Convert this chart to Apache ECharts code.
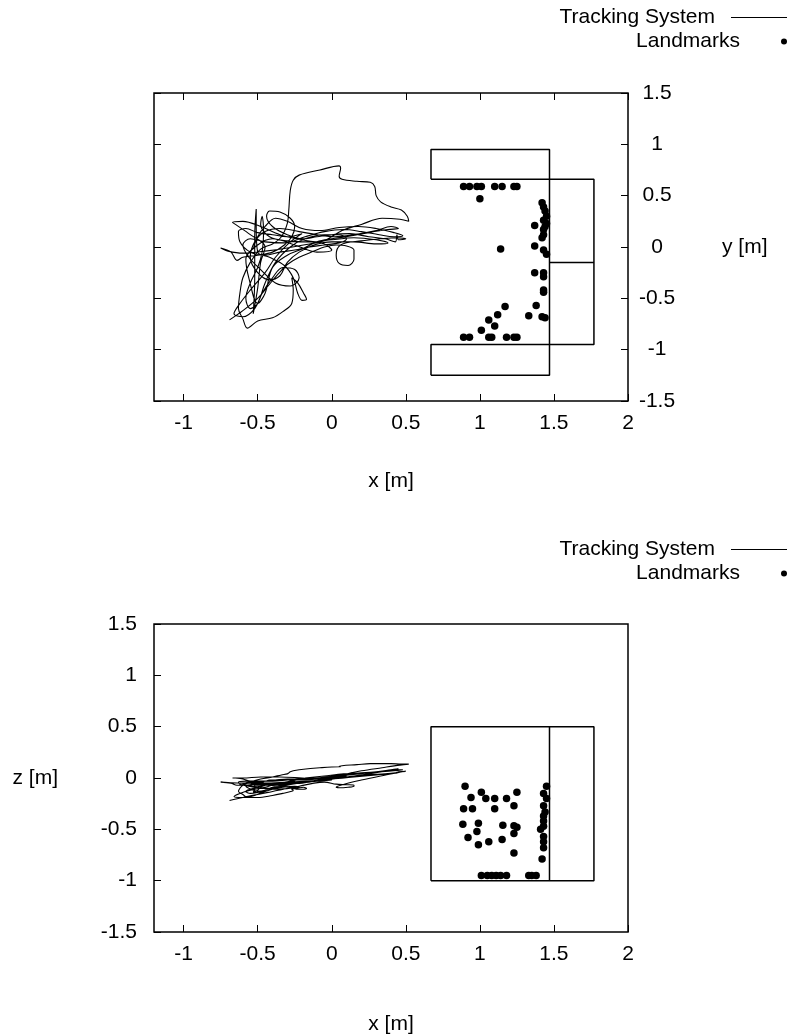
<!DOCTYPE html>
<html><head><meta charset="utf-8">
<script src="https://cdn.jsdelivr.net/npm/echarts@6/dist/echarts.min.js"></script>
<style>html,body{margin:0;padding:0;background:#fff}#c{width:787px;height:1036px}</style>
</head><body><div id="c"></div>
<script>
// ---- tick labels ----
const xTicks = [-1, -0.5, 0, 0.5, 1, 1.5, 2];
const yTicks = [-1.5, -1, -0.5, 0, 0.5, 1, 1.5];
const zTicks = [-1.5, -1, -0.5, 0, 0.5, 1, 1.5];

// ---- tracking system trajectory (same path, x / y / z) ----
const trajX = [-0.69,-0.60,-0.50,-0.43,-0.36,-0.30,-0.22,-0.12,-0.05,0.03,0.10,0.15,0.15,0.11,0.05,0.03,0.06,0.20,0.33,0.44,0.50,0.45,0.44,0.43,0.36,0.25,0.12,0.00,-0.10,-0.20,-0.30,-0.40,-0.44,-0.42,-0.35,-0.28,-0.25,-0.27,-0.32,-0.40,-0.50,-0.60,-0.64,-0.68,-0.75,-0.70,-0.60,-0.45,-0.30,-0.15,-0.05,0.07,0.20,0.34,0.46,0.52,0.51,0.47,0.40,0.33,0.30,0.29,0.26,0.17,0.07,0.05,0.06,0.05,-0.08,-0.22,-0.26,-0.28,-0.29,-0.30,-0.34,-0.40,-0.48,-0.55,-0.60,-0.62,-0.63,-0.60,-0.57,-0.50,-0.40,-0.33,-0.27,-0.26,-0.27,-0.23,-0.19,-0.17,-0.20,-0.23,-0.26,-0.32,-0.42,-0.50,-0.51,-0.51,-0.52,-0.52,-0.53,-0.50,-0.48,-0.45,-0.55,-0.65,-0.67,-0.60,-0.48,-0.35,-0.20,-0.05,0.00,-0.10,-0.25,-0.40,-0.50,-0.58,-0.56,-0.50,-0.45,-0.40,-0.30,-0.20,-0.10,0.00,0.10,0.25,0.38,0.45,
 0.40,0.30,0.15,0.02,-0.10,-0.22,-0.35,-0.45,-0.52,-0.55,-0.50,-0.42,-0.35,-0.30,-0.22,-0.12,0.00,0.15,0.30,0.38,0.30,0.15,0.00,-0.15,-0.30,-0.42,-0.48,-0.47,-0.46,-0.47,-0.50,-0.55,-0.58,-0.55,-0.50,-0.45,-0.38,-0.28,-0.18,-0.05,0.05,0.10,0.05,-0.05,-0.15,-0.25,-0.35,-0.45,-0.55,-0.62,-0.63,-0.58,-0.50,-0.40,-0.30,-0.20,
 -0.28,-0.38,-0.45,-0.55,-0.62,-0.66,-0.60,-0.52,-0.47,-0.40,-0.33,-0.25,-0.22,-0.28,-0.38,-0.48,-0.56,-0.60,-0.55,-0.45,-0.32,-0.18,-0.05,0.08,0.20,0.32,0.42,0.48,0.42,0.30,0.18,0.05,-0.08,-0.20,-0.30,-0.38,-0.45,-0.50,-0.53];
const trajY = [-0.71,-0.62,-0.50,-0.38,-0.26,-0.17,-0.10,-0.04,0.00,0.02,0.01,-0.03,-0.12,-0.18,-0.16,-0.08,0.02,0.06,0.08,0.09,0.08,0.07,0.12,0.05,0.08,0.10,0.13,0.12,0.10,0.08,0.12,0.20,0.30,0.35,0.34,0.28,0.20,0.10,0.02,-0.05,-0.08,-0.10,-0.13,-0.05,-0.01,-0.04,-0.06,-0.04,-0.01,0.03,0.06,0.16,0.22,0.28,0.27,0.25,0.30,0.36,0.39,0.44,0.50,0.59,0.63,0.64,0.66,0.69,0.77,0.79,0.75,0.70,0.65,0.55,0.36,0.23,0.10,0.03,-0.02,-0.15,-0.30,-0.45,-0.60,-0.70,-0.79,-0.72,-0.69,-0.63,-0.55,-0.42,-0.30,-0.35,-0.45,-0.51,-0.52,-0.45,-0.30,-0.18,-0.10,-0.05,0.20,0.37,0.10,-0.30,-0.65,-0.40,-0.15,0.00,0.12,0.22,0.24,0.25,0.20,0.12,0.07,0.03,-0.03,-0.05,0.02,0.08,0.02,-0.12,-0.30,-0.55,-0.45,-0.20,-0.08,-0.02,0.05,0.08,0.10,0.14,0.17,0.18,
 0.20,0.16,0.12,0.10,0.12,0.15,0.18,0.15,0.05,-0.10,-0.25,-0.32,-0.28,-0.15,-0.05,0.02,0.05,0.05,0.03,0.04,0.07,0.09,0.07,0.05,0.06,0.10,0.22,0.30,0.15,-0.05,-0.20,-0.35,-0.50,-0.60,-0.55,-0.35,-0.15,0.00,0.08,0.12,0.12,0.08,0.04,0.02,0.00,-0.03,-0.05,-0.08,-0.05,0.05,0.15,0.18,0.14,0.12,0.10,0.13,
 0.05,-0.10,-0.25,-0.42,-0.55,-0.65,-0.68,-0.60,-0.45,-0.30,-0.20,-0.22,-0.30,-0.38,-0.35,-0.22,-0.10,0.02,0.08,0.05,0.04,0.10,0.15,0.17,0.15,0.12,0.10,0.11,0.14,0.18,0.20,0.19,0.16,0.18,0.25,0.28,0.20,0.10,-0.02];
const trajZ = [-0.22,-0.19,-0.16,-0.14,-0.12,-0.10,-0.08,-0.05,-0.04,-0.06,-0.065,-0.07,-0.08,-0.09,-0.095,-0.09,-0.07,-0.02,0.02,0.05,0.065,0.06,0.055,0.05,0.04,0.03,0.01,0.00,-0.01,-0.02,-0.02,-0.03,-0.03,-0.02,-0.02,-0.02,-0.03,-0.04,-0.05,-0.06,-0.06,-0.07,-0.07,-0.05,-0.04,-0.045,-0.05,-0.05,-0.04,-0.03,-0.02,0.03,0.07,0.10,0.125,0.135,0.135,0.135,0.14,0.14,0.14,0.14,0.14,0.13,0.12,0.115,0.11,0.11,0.10,0.08,0.07,0.06,0.05,0.04,0.03,0.01,-0.01,-0.04,-0.07,-0.10,-0.13,-0.16,-0.19,-0.19,-0.17,-0.15,-0.13,-0.12,-0.11,-0.10,-0.09,-0.10,-0.11,-0.11,-0.10,-0.08,-0.07,-0.06,-0.05,-0.04,-0.06,-0.10,-0.14,-0.12,-0.09,-0.07,-0.03,0.00,0.00,0.00,0.01,0.01,0.00,-0.01,-0.02,-0.03,-0.04,-0.05,-0.06,-0.08,-0.10,-0.13,-0.12,-0.09,-0.06,-0.05,-0.03,-0.01,0.01,0.04,0.07,0.09,
 0.08,0.06,0.04,0.02,0.00,-0.01,-0.02,-0.03,-0.05,-0.07,-0.09,-0.10,-0.09,-0.07,-0.05,-0.03,-0.01,0.01,0.03,0.04,0.03,0.01,-0.01,-0.03,-0.04,-0.05,-0.05,-0.04,-0.05,-0.07,-0.09,-0.11,-0.13,-0.15,-0.14,-0.12,-0.09,-0.06,-0.04,-0.01,0.01,0.02,0.00,-0.02,-0.04,-0.05,-0.06,-0.07,-0.08,-0.06,-0.04,-0.03,-0.03,-0.03,-0.02,-0.01,
 -0.03,-0.06,-0.09,-0.12,-0.15,-0.18,-0.19,-0.17,-0.14,-0.11,-0.09,-0.08,-0.09,-0.10,-0.11,-0.10,-0.08,-0.06,-0.04,-0.03,-0.02,0.00,0.02,0.04,0.05,0.06,0.07,0.08,0.08,0.06,0.04,0.02,0.00,-0.01,-0.01,-0.02,-0.03,-0.04,-0.06];

// ---- landmarks ----
const landmarksXY = [
 [0.89,0.59],[0.93,0.59],[0.98,0.59],[1.01,0.59],[1.10,0.59],[1.15,0.59],[1.23,0.59],[1.25,0.59],
 [1.00,0.47],
 [1.42,0.43],[1.43,0.39],[1.44,0.35],[1.45,0.30],[1.43,0.26],[1.45,0.23],[1.37,0.21],[1.44,0.20],[1.43,0.17],[1.43,0.12],[1.42,0.09],[1.37,0.01],[1.43,-0.03],[1.45,-0.07],
 [1.14,-0.02],
 [1.37,-0.25],[1.43,-0.25],[1.43,-0.29],[1.43,-0.42],[1.43,-0.44],[1.38,-0.57],[1.33,-0.67],[1.42,-0.68],[1.44,-0.69],
 [1.17,-0.58],[1.12,-0.66],[1.06,-0.71],[1.10,-0.77],[1.01,-0.81],
 [0.89,-0.88],[0.93,-0.88],[1.06,-0.88],[1.08,-0.88],[1.18,-0.88],[1.23,-0.88],[1.25,-0.88]
];
const landmarksXZ = [
 [0.90,-0.08],[0.94,-0.19],[1.01,-0.14],[1.04,-0.20],[1.10,-0.20],[1.18,-0.20],[1.25,-0.14],
 [0.89,-0.30],[0.95,-0.30],[1.10,-0.30],[1.23,-0.27],
 [0.885,-0.45],[0.99,-0.44],[0.98,-0.52],[1.155,-0.46],[1.23,-0.465],[1.25,-0.48],[1.23,-0.54],
 [0.92,-0.58],[1.15,-0.60],[1.06,-0.62],[0.99,-0.65],[1.23,-0.73],
 [1.01,-0.95],[1.05,-0.95],[1.08,-0.95],[1.11,-0.95],[1.14,-0.95],[1.18,-0.95],[1.33,-0.95],[1.35,-0.95],[1.38,-0.95],
 [1.45,-0.08],[1.43,-0.15],[1.45,-0.20],[1.43,-0.27],[1.44,-0.33],[1.43,-0.37],[1.43,-0.42],[1.43,-0.47],[1.41,-0.50],[1.43,-0.57],[1.43,-0.62],[1.43,-0.68],[1.42,-0.79]
];

// ---- walls (outline polylines) ----
const wallsXY = [
 [[0.67,0.66],[1.47,0.66],[1.47,0.95],[0.67,0.95],[0.67,0.66]],
 [[1.47,-0.95],[1.77,-0.95],[1.77,0.66],[1.47,0.66],[1.47,-0.95]],
 [[1.47,-0.15],[1.77,-0.15]],
 [[0.67,-1.25],[1.47,-1.25],[1.47,-0.95],[0.67,-0.95],[0.67,-1.25]]
];
const wallsXZ = [
 [[0.67,-1.0],[1.77,-1.0],[1.77,0.5],[0.67,0.5],[0.67,-1.0]],
 [[1.47,-1.0],[1.47,0.5]]
];

const FONT = '"Liberation Sans", Arial, Helvetica, sans-serif';
const FS = 21;
const txt = { color: '#000', fontFamily: FONT, fontSize: FS };

function xAx(grid, pos, labels, name, nameGap) {
  return {
    gridIndex: grid, type: 'value', position: pos, min: -1.2, max: 2,
    axisLine: { show: false, onZero: false }, splitLine: { show: false },
    axisTick: { show: true, inside: true, length: 7, lineStyle: { color: '#000', width: 1 }, customValues: xTicks },
    axisLabel: labels ? Object.assign({ margin: 12, customValues: xTicks }, txt) : { show: false },
    name: name || '', nameLocation: 'middle', nameGap: nameGap || 0, nameTextStyle: txt
  };
}
function yAx(grid, pos, ticks, labelCfg, name, nameGap) {
  return {
    gridIndex: grid, type: 'value', position: pos, min: -1.5, max: 1.5,
    axisLine: { show: false, onZero: false }, splitLine: { show: false },
    axisTick: { show: true, inside: true, length: 7, lineStyle: { color: '#000', width: 1 }, customValues: ticks },
    axisLabel: labelCfg ? Object.assign({ customValues: ticks }, txt, labelCfg) : { show: false },
    name: name || '', nameLocation: 'middle', nameRotate: 0, nameGap: nameGap || 0, nameTextStyle: txt
  };
}

const trajXY = trajX.map((x, i) => [x, trajY[i]]);
const trajXZ = trajX.map((x, i) => [x, trajZ[i]]);

const series = [];
wallsXY.forEach((w, i) => series.push({ name: 'wallXY' + i, type: 'line', xAxisIndex: 0, yAxisIndex: 0, data: w, symbol: 'none', lineStyle: { color: '#000', width: 1.5 }, silent: true, z: 2 }));
wallsXZ.forEach((w, i) => series.push({ name: 'wallXZ' + i, type: 'line', xAxisIndex: 2, yAxisIndex: 2, data: w, symbol: 'none', lineStyle: { color: '#000', width: 1.5 }, silent: true, z: 2 }));
series.push({ name: 'Tracking System', type: 'line', xAxisIndex: 0, yAxisIndex: 0, data: trajXY, symbol: 'none', smooth: 0.35, lineStyle: { color: '#000', width: 1.1 }, itemStyle: { color: '#000' }, z: 3 });
series.push({ name: 'Tracking System', type: 'line', xAxisIndex: 2, yAxisIndex: 2, data: trajXZ, symbol: 'none', smooth: 0.35, lineStyle: { color: '#000', width: 1.1 }, itemStyle: { color: '#000' }, z: 3 });
series.push({ name: 'Landmarks', type: 'scatter', xAxisIndex: 0, yAxisIndex: 0, data: landmarksXY, symbol: 'circle', symbolSize: 7.5, itemStyle: { color: '#000', opacity: 1 }, z: 4 });
series.push({ name: 'Landmarks', type: 'scatter', xAxisIndex: 2, yAxisIndex: 2, data: landmarksXZ, symbol: 'circle', symbolSize: 7.5, itemStyle: { color: '#000', opacity: 1 }, z: 4 });

function leg(name, top, h, icon) {
  return {
    data: [{ name: name, icon: icon }], right: 0, top: top, orient: 'vertical', align: 'right', padding: 0,
    itemWidth: 56, itemHeight: h, selectedMode: false,
    textStyle: Object.assign({ padding: [0, 11, 0, 0] }, txt),
    itemStyle: { color: '#000', borderWidth: 0 }
  };
}

const option = {
  animation: false,
  backgroundColor: '#fff',
  grid: [
    { left: 154, top: 93, width: 474, height: 308, show: true, borderColor: '#000', borderWidth: 1.5, backgroundColor: 'transparent', containLabel: false, outerBoundsMode: 'none' },
    { left: 154, top: 624, width: 474, height: 308, show: true, borderColor: '#000', borderWidth: 1.5, backgroundColor: 'transparent', containLabel: false, outerBoundsMode: 'none' }
  ],
  legend: [
    leg('Tracking System', 7, 1, 'rect'),
    leg('Landmarks', 31, 6, 'circle'),
    leg('Tracking System', 539, 1, 'rect'),
    leg('Landmarks', 563, 6, 'circle')
  ],
  xAxis: [
    xAx(0, 'bottom', true, 'x [m]', 70),
    xAx(0, 'top', false),
    xAx(1, 'bottom', true, 'x [m]', 82)
  ],
  yAxis: [
    yAx(0, 'right', yTicks, { align: 'center', margin: 29 }, 'y [m]', 94),
    yAx(0, 'left', yTicks, null),
    yAx(1, 'left', zTicks, { margin: 17 }, 'z [m]', 96)
  ],
  series: series
};
const chart = echarts.init(document.getElementById('c'), null, { renderer: 'canvas' });
chart.setOption(option);
</script></body></html>
